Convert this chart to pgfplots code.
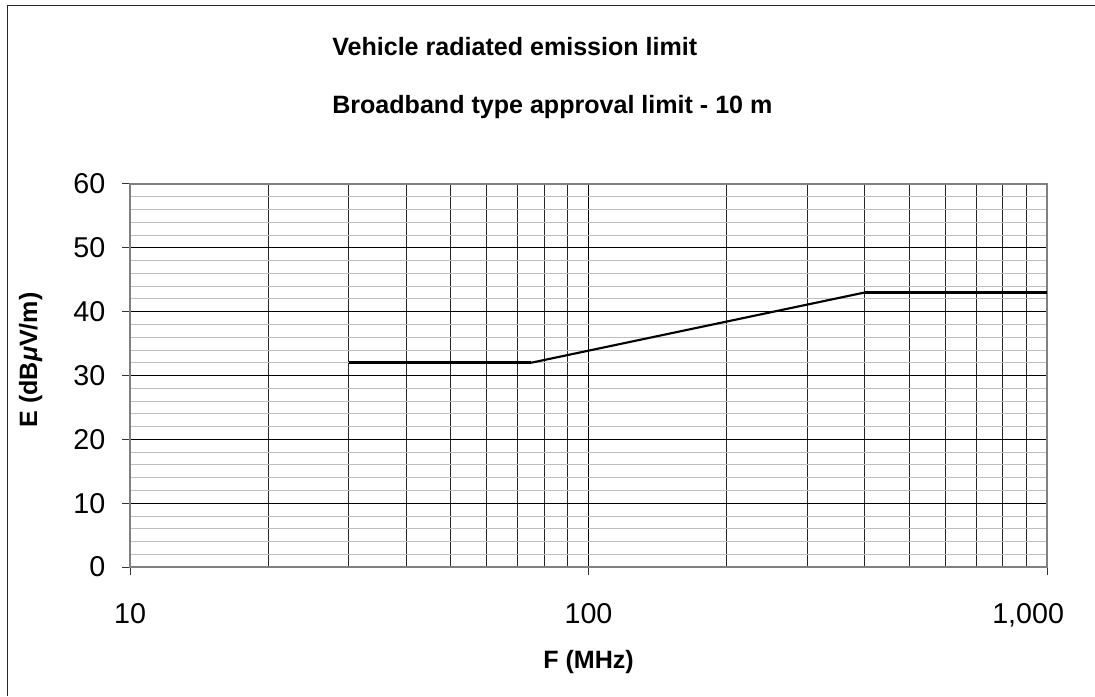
\documentclass[border=0pt]{standalone}
\usepackage{fontspec}
\setmainfont{Liberation Sans}
\usepackage{pgfplots}
\pgfplotsset{compat=1.18}
\begin{document}
\begin{tikzpicture}
\useasboundingbox (0,0) rectangle (821.25pt,522pt);
\draw[black!85, line width=0.9pt] (5.5pt,0pt) -- (5.5pt,518pt) -- (821.25pt,518pt);
\begin{axis}[
  at={(97.5pt,96.75pt)}, anchor=south west,
  scale only axis, width=687.75pt, height=287.25pt,
  xmode=log, xmin=10, xmax=1000, ymin=0, ymax=60,
  log basis x=10,
  xtick={10,100,1000}, xticklabels={10,100,{\makebox[0pt][r]{1,000\hspace{-12.75pt}}}},
  ytick={0,10,20,30,40,50,60}, yticklabels={0,10,20,30,40,50,60},
  minor ytick={2,4,6,8,12,14,16,18,22,24,26,28,32,34,36,38,42,44,46,48,52,54,56,58},
  minor xtick={20,30,40,50,60,70,80,90,200,300,400,500,600,700,800,900},
  grid=both,
  major grid style={black, line width=0.6pt},
  minor x grid style={black!85, line width=0.6pt},
  minor y grid style={black!25, line width=0.6pt},
  axis line style={black!50, line width=1pt},
  tick pos=left, tick align=outside,
  major tick length=6pt, minor tick length=0pt,
  tick style={black!80, line width=0.75pt},
  ticklabel style={font=\fontsize{21.5pt}{24pt}\selectfont},
  xticklabel style={yshift=-17.5pt},
  yticklabel style={xshift=-9pt},
]
\addplot[black, line width=2.2pt] coordinates {(30,32) (75,32)};
\addplot[black, line width=1.6pt] coordinates {(75,32) (400,43)};
\addplot[black, line width=2.2pt] coordinates {(400,43) (1000,43)};
\end{axis}
\node[anchor=base west, inner sep=0pt, font=\fontsize{18.8pt}{20pt}\selectfont\bfseries] at (249pt,480pt) {Vehicle radiated emission limit};
\node[anchor=base west, inner sep=0pt, font=\fontsize{18.8pt}{20pt}\selectfont\bfseries] at (249pt,436.5pt) {Broadband type approval limit - 10 m};
\node[anchor=base, inner sep=0pt, font=\fontsize{18.8pt}{20pt}\selectfont\bfseries] at (441.4pt,21pt) {F (MHz)};
\node[anchor=base, inner sep=0pt, rotate=90, font=\fontsize{18.8pt}{20pt}\selectfont\bfseries] at (27.75pt,252pt) {E (dB\textit{μ}V/m)};
\end{tikzpicture}
\end{document}
